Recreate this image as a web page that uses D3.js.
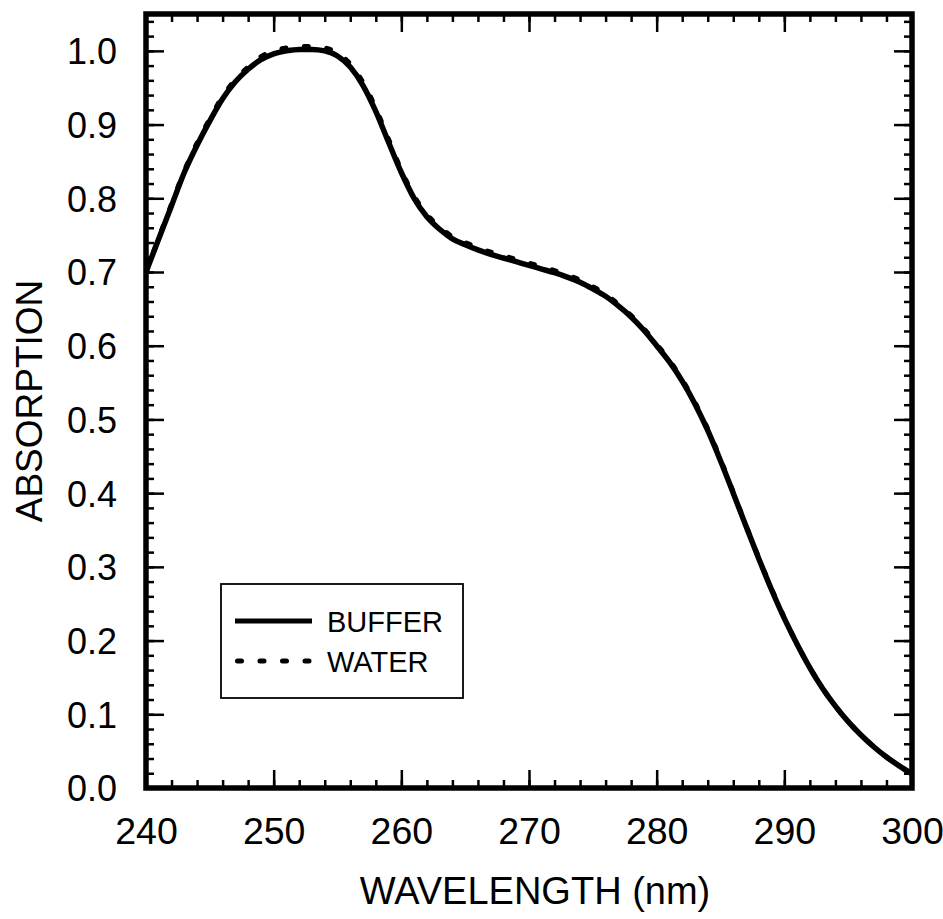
<!DOCTYPE html>
<html>
<head>
<meta charset="utf-8">
<script src="https://cdn.jsdelivr.net/npm/d3@7/dist/d3.min.js"></script>
<style>
  html, body { margin: 0; padding: 0; background: #fff; }
  svg { display: block; }
  text { font-family: "Liberation Sans", Arial, sans-serif; fill: #000; }
</style>
</head>
<body>
<svg id="chart" width="943" height="919"></svg>
<script>
// ---- data ----
const wavelength = [240,241,242,243,244,245,246,247,248,249,250,251,252,253,254,255,256,257,258,259,260,
  261,262,263,264,265,266,267,268,269,270,271,272,273,274,275,276,277,278,279,280,
  281,282,283,284,285,286,287,288,289,290,291,292,293,294,295,296,297,298,299,300];
const buffer = [0.700,0.745,0.790,0.835,0.872,0.905,0.935,0.958,0.975,0.988,0.996,1.000,1.002,1.002,1.000,0.993,0.978,0.953,0.918,0.876,0.835,
  0.800,0.775,0.758,0.745,0.737,0.730,0.724,0.719,0.714,0.709,0.704,0.699,0.693,0.686,0.677,0.667,0.654,0.639,0.621,0.600,
  0.578,0.552,0.521,0.485,0.444,0.400,0.355,0.311,0.269,0.230,0.195,0.163,0.135,0.111,0.090,0.072,0.056,0.042,0.030,0.019];
const water = [0.700,0.746,0.792,0.837,0.875,0.908,0.938,0.961,0.978,0.992,1.000,1.004,1.006,1.006,1.004,0.997,0.982,0.957,0.922,0.880,0.838,
  0.803,0.778,0.761,0.748,0.740,0.733,0.727,0.722,0.717,0.712,0.707,0.702,0.696,0.689,0.680,0.670,0.656,0.641,0.623,0.602,
  0.580,0.554,0.523,0.487,0.446,0.401,0.356,0.312,0.270,0.231,0.195,0.163,0.135,0.111,0.090,0.072,0.056,0.042,0.030,0.019];
const xTickValues = [240,250,260,270,280,290,300];
const yTickLabels = ["0.0","0.1","0.2","0.3","0.4","0.5","0.6","0.7","0.8","0.9","1.0"];
const seriesNames = ["BUFFER","WATER"];
const xTitle = "WAVELENGTH (nm)";
const yTitle = "ABSORPTION";

// ---- layout ----
const W = 943, H = 919;
const m = {left: 146, right: 31, top: 14, bottom: 131};
const pw = W - m.left - m.right, ph = H - m.top - m.bottom;
const svg = d3.select("#chart");
const g = svg.append("g").attr("transform", `translate(${m.left},${m.top})`);

const x = d3.scaleLinear().domain([240, 300]).range([0, pw]);
const y = d3.scaleLinear().domain([0, 1.05]).range([ph, 0]);

const xMinor = d3.range(240, 300.01, 2);
const yMinor = d3.range(0, 1.0501, 0.02);
const yMajor = d3.range(0, 1.0001, 0.1);

// ticks (inward, all four sides)
function addAxis(axisGen, transform) {
  const a = g.append("g").attr("transform", transform).call(axisGen);
  a.select(".domain").remove();
  a.selectAll("line").attr("stroke", "#000").attr("stroke-width", 2.5);
  return a;
}
addAxis(d3.axisBottom(x).tickValues(xMinor).tickSize(-8).tickFormat(""), `translate(0,${ph})`);
addAxis(d3.axisBottom(x).tickValues(xTickValues).tickSize(-18).tickFormat(""), `translate(0,${ph})`);
addAxis(d3.axisTop(x).tickValues(xMinor).tickSize(-8).tickFormat(""), `translate(0,0)`);
addAxis(d3.axisTop(x).tickValues(xTickValues).tickSize(-18).tickFormat(""), `translate(0,0)`);
addAxis(d3.axisLeft(y).tickValues(yMinor).tickSize(-8).tickFormat(""), `translate(0,0)`);
addAxis(d3.axisLeft(y).tickValues(yMajor).tickSize(-18).tickFormat(""), `translate(0,0)`);
addAxis(d3.axisRight(y).tickValues(yMinor).tickSize(-8).tickFormat(""), `translate(${pw},0)`);
addAxis(d3.axisRight(y).tickValues(yMajor).tickSize(-18).tickFormat(""), `translate(${pw},0)`);

// tick labels
const xl = g.append("g").attr("transform", `translate(0,${ph})`)
  .call(d3.axisBottom(x).tickValues(xTickValues).tickSize(0).tickPadding(56).tickFormat(d3.format("d")));
xl.select(".domain").remove();
xl.selectAll("text").attr("font-size", 37.5).attr("font-family", '"Liberation Sans", Arial, sans-serif').attr("dy", "0");

const yl = g.append("g")
  .call(d3.axisLeft(y).tickValues(yMajor).tickSize(0).tickPadding(29).tickFormat((d, i) => yTickLabels[i]));
yl.select(".domain").remove();
yl.selectAll("text").attr("font-size", 36).attr("font-family", '"Liberation Sans", Arial, sans-serif').attr("dy", "0.36em");

// lines
const line = d3.line().x((d) => x(d[0])).y((d) => y(d[1])).curve(d3.curveMonotoneX);
g.append("clipPath").attr("id", "clip").append("rect").attr("width", pw).attr("height", ph);
g.append("path").datum(wavelength.map((w, i) => [w, buffer[i]]))
  .attr("d", line).attr("fill", "none").attr("stroke", "#000").attr("stroke-width", 5.5)
  .attr("clip-path", "url(#clip)");
g.append("path").datum(wavelength.map((w, i) => [w, water[i]]))
  .attr("d", line).attr("fill", "none").attr("stroke", "#000").attr("stroke-width", 5)
  .attr("stroke-dasharray", "4,18.5").attr("stroke-linecap", "round")
  .attr("clip-path", "url(#clip)");

// frame
g.append("rect").attr("width", pw).attr("height", ph)
  .attr("fill", "none").attr("stroke", "#000").attr("stroke-width", 5.5);

// axis titles
svg.append("text").attr("x", 535).attr("y", 904)
  .attr("text-anchor", "middle").attr("font-size", 38).text(xTitle);
svg.append("text").attr("transform", "translate(42,401) rotate(-90)")
  .attr("text-anchor", "middle").attr("font-size", 37).text(yTitle);

// legend
const lg = svg.append("g").attr("transform", "translate(221,584)");
lg.append("rect").attr("width", 242).attr("height", 114).attr("fill", "#fff")
  .attr("stroke", "#000").attr("stroke-width", 1.8);
const dashes = [null, "4,18.5"];
seriesNames.forEach((name, i) => {
  const yy = 37 + i * 40;
  lg.append("line").attr("x1", dashes[i] ? 16.5 : 14).attr("x2", dashes[i] ? 89 : 91).attr("y1", yy).attr("y2", yy)
    .attr("stroke", "#000").attr("stroke-width", 5)
    .attr("stroke-dasharray", dashes[i]).attr("stroke-linecap", dashes[i] ? "round" : "butt");
  lg.append("text").attr("x", 106).attr("y", yy + 10.5).attr("font-size", 29).text(name);
});
</script>
</body>
</html>
